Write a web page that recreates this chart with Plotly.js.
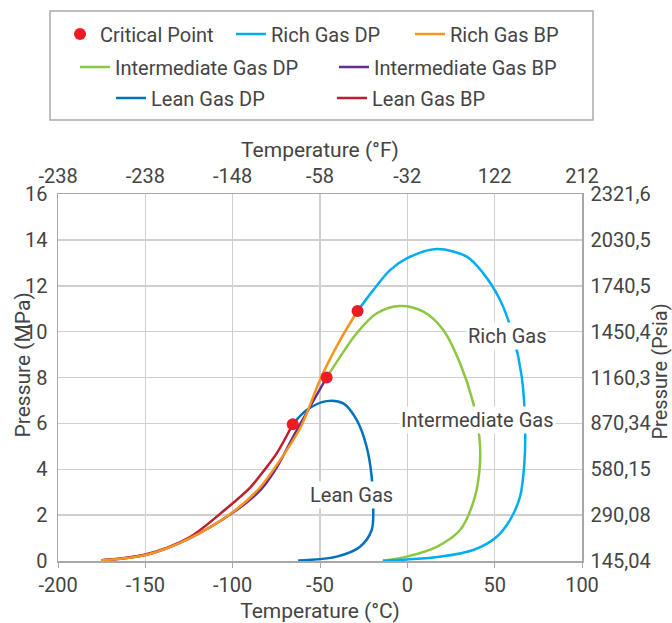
<!DOCTYPE html>
<html>
<head>
<meta charset="utf-8">
<script src="https://cdn.plot.ly/plotly-3.0.1.min.js"></script>
<style>html,body{margin:0;padding:0;background:#fff;}#chart{width:672px;height:623px;}</style>
</head>
<body>
<div id="chart"></div>
<script>
// ---- data ----
const criticalT = [-65.6, -46.2, -28.5];
const criticalP = [5.96, 8.0, 10.9];

const richDpT = [-28.5, -19.5, -9.9, -0.4, 16.8, 34, 43.5, 53.1, 60.7, 65.5, 67.4, 67, 64.5, 58.8, 51.2, 37.8, 18.7, -0.3, -14];
const richDpP = [10.9, 11.81, 12.68, 13.19, 13.6, 13.27, 12.54, 11.38, 9.78, 8.03, 6.0, 4.26, 2.8, 1.79, 1.06, 0.48, 0.19, 0.07, 0.01];

const richBpT = [-175, -150, -125, -100, -85, -69, -61, -49.4, -38.5, -28.5];
const richBpP = [0.03, 0.26, 0.98, 2.13, 3.15, 4.84, 5.84, 8.0, 9.63, 10.9];

const intDpT = [-46.2, -38.5, -29, -17.5, -4.2, 9.2, 20.6, 30.2, 37.8, 41.2, 41.6, 38.7, 30.2, 16.8, -0.4, -14];
const intDpP = [8.0, 8.9, 9.93, 10.8, 11.12, 10.87, 10.07, 8.62, 6.87, 5.42, 4.26, 2.8, 1.35, 0.62, 0.19, 0.01];

const intBpT = [-175, -150, -125, -100, -84, -75, -65.3, -55.7, -46.2];
const intBpP = [0.03, 0.26, 0.98, 2.1, 3.1, 4.05, 5.42, 6.73, 8.0];

const leanDpT = [-65.6, -57.6, -46.3, -36.7, -29, -23.3, -20.4, -19.5, -20.4, -27.1, -40.4, -62.5];
const leanDpP = [5.96, 6.58, 6.97, 6.87, 6.15, 4.98, 3.67, 2.37, 1.35, 0.62, 0.19, 0.02];

const leanBpT = [-175, -150, -125, -103.4, -90, -82.5, -74.8, -65.6];
const leanBpP = [0.03, 0.28, 1.02, 2.3, 3.2, 3.9, 4.69, 5.96];

const tempTicksC = [-200, -150, -100, -50, 0, 50, 100];
const tempTicksF = ['-238', '-238', '-148', '-58', '-32', '122', '212'];
const pressTicksMPa = [0, 2, 4, 6, 8, 10, 12, 14, 16];
const pressTicksPsia = ['145,04', '290,08', '580,15', '870,34', '1160,3', '1450,4', '1740,5', '2030,5', '2321,6'];

const regionLabels = ['Rich Gas', 'Intermediate Gas', 'Lean Gas'];
const regionLabelT = [57.3, 40.2, -32.0];
const regionLabelP = [9.81, 6.15, 2.88];

// ---- styling ----
const FONT = 'Roboto, "Open Sans", sans-serif';
const TXT = '#444';
const GRID = '#cfcfcf';
const AXIS = '#a8a8a8';
const FS = 20;

const plotL = 58, plotR = 582, plotT = 194, plotB = 561;
const px = v => (v - plotL) / (plotR - plotL);
const py = v => (plotB - v) / (plotB - plotT);

function legendAt(xPix, yPix) {
  return {orientation: 'h', xanchor: 'left', yanchor: 'middle', x: px(xPix), y: py(yPix),
    font: {family: FONT, size: FS, color: TXT}, bgcolor: 'rgba(0,0,0,0)', borderwidth: 0};
}

function line(name, x, y, color, legend) {
  return {type: 'scatter', mode: 'lines', name: name, x: x, y: y,
    line: {color: color, width: 2.5, shape: 'spline', smoothing: 0.9},
    legend: legend, hoverinfo: 'skip'};
}

const traces = [
  line('Lean Gas DP', leanDpT, leanDpP, '#0072bc', 'legend6'),
  line('Lean Gas BP', leanBpT, leanBpP, '#be1e2d', 'legend7'),
  line('Intermediate Gas DP', intDpT, intDpP, '#8dc63f', 'legend4'),
  line('Intermediate Gas BP', intBpT, intBpP, '#662d91', 'legend5'),
  line('Rich Gas DP', richDpT, richDpP, '#00aeef', 'legend2'),
  line('Rich Gas BP', richBpT, richBpP, '#f7941d', 'legend3'),
  {type: 'scatter', mode: 'markers', name: 'Critical Point', x: criticalT, y: criticalP,
   marker: {color: '#ed1c24', size: 12}, legend: 'legend', hoverinfo: 'skip'},
  // carriers for the secondary (°F / Psia) axes
  {type: 'scatter', mode: 'markers', x: [null], y: [null], xaxis: 'x2', yaxis: 'y', showlegend: false, hoverinfo: 'skip'},
  {type: 'scatter', mode: 'markers', x: [null], y: [null], xaxis: 'x', yaxis: 'y2', showlegend: false, hoverinfo: 'skip'}
];

const annotations = regionLabels.map((t, i) => ({
  x: regionLabelT[i], y: regionLabelP[i], xref: 'x', yref: 'y', text: t, showarrow: false,
  font: {family: FONT, size: FS, color: TXT}, bgcolor: '#ffffff', borderpad: 1
}));
annotations.push({xref: 'paper', yref: 'paper', x: px(22), y: 0.5, xanchor: 'center', yanchor: 'middle',
  text: 'Pressure (MPa)', textangle: -90,
  showarrow: false, font: {family: FONT, size: 21, color: TXT}, yshift: 12});
annotations.push({xref: 'paper', yref: 'paper', x: px(659), y: 0.5, xanchor: 'center', yanchor: 'middle',
  text: 'Pressure (Psia)', textangle: -90,
  showarrow: false, font: {family: FONT, size: 20, color: TXT}, yshift: 6});

const layout = {
  width: 672, height: 623,
  margin: {l: plotL, r: 672 - plotR, t: plotT, b: 623 - plotB},
  paper_bgcolor: '#fff', plot_bgcolor: '#fff',
  font: {family: FONT, color: TXT},
  showlegend: true,
  xaxis: {range: [-200, 100], tickvals: tempTicksC, ticktext: tempTicksC.map(String),
    showgrid: true, gridcolor: GRID, gridwidth: 1.5, zeroline: false,
    showline: true, linecolor: AXIS, linewidth: 1.5, ticks: 'outside', ticklen: 5, tickcolor: AXIS,
    tickfont: {family: FONT, size: FS, color: TXT},
    title: {text: 'Temperature (°C)', font: {family: FONT, size: 21, color: TXT}, standoff: 11}},
  xaxis2: {range: [-200, 100], overlaying: 'x', side: 'top', anchor: 'y', tickvals: tempTicksC, ticktext: tempTicksF,
    showgrid: false, zeroline: false, showline: true, linecolor: AXIS, linewidth: 1.5,
    ticks: 'outside', ticklen: 2, tickcolor: 'rgba(0,0,0,0)',
    tickfont: {family: FONT, size: FS, color: TXT},
    title: {text: 'Temperature (°F)', font: {family: FONT, size: 21, color: TXT}, standoff: 0}},
  yaxis: {range: [0, 16], tickvals: pressTicksMPa, ticktext: pressTicksMPa.map(String),
    showgrid: true, gridcolor: GRID, gridwidth: 1.5, zeroline: false,
    showline: true, linecolor: AXIS, linewidth: 1.5, ticks: 'outside', ticklen: 5, tickcolor: 'rgba(0,0,0,0)',
    tickfont: {family: FONT, size: FS, color: TXT}},
  yaxis2: {range: [0, 16], overlaying: 'y', side: 'right', anchor: 'x', tickvals: pressTicksMPa, ticktext: pressTicksPsia,
    showgrid: false, zeroline: false, showline: true, linecolor: AXIS, linewidth: 1.5,
    ticks: 'outside', ticklen: 3, tickcolor: 'rgba(0,0,0,0)',
    tickfont: {family: FONT, size: FS, color: TXT}},
  legend: legendAt(60, 34),
  legend2: legendAt(231, 34),
  legend3: legendAt(410, 34),
  legend4: legendAt(75, 67),
  legend5: legendAt(334, 67),
  legend6: legendAt(111, 98),
  legend7: legendAt(332, 98),
  shapes: [{type: 'rect', xref: 'paper', yref: 'paper', x0: px(50), x1: px(593), y0: py(120), y1: py(11),
    line: {color: '#aaaaaa', width: 1.5}, fillcolor: 'rgba(0,0,0,0)'}],
  annotations: annotations
};

Plotly.newPlot('chart', traces, layout, {displayModeBar: false, staticPlot: true});
</script>
</body>
</html>
